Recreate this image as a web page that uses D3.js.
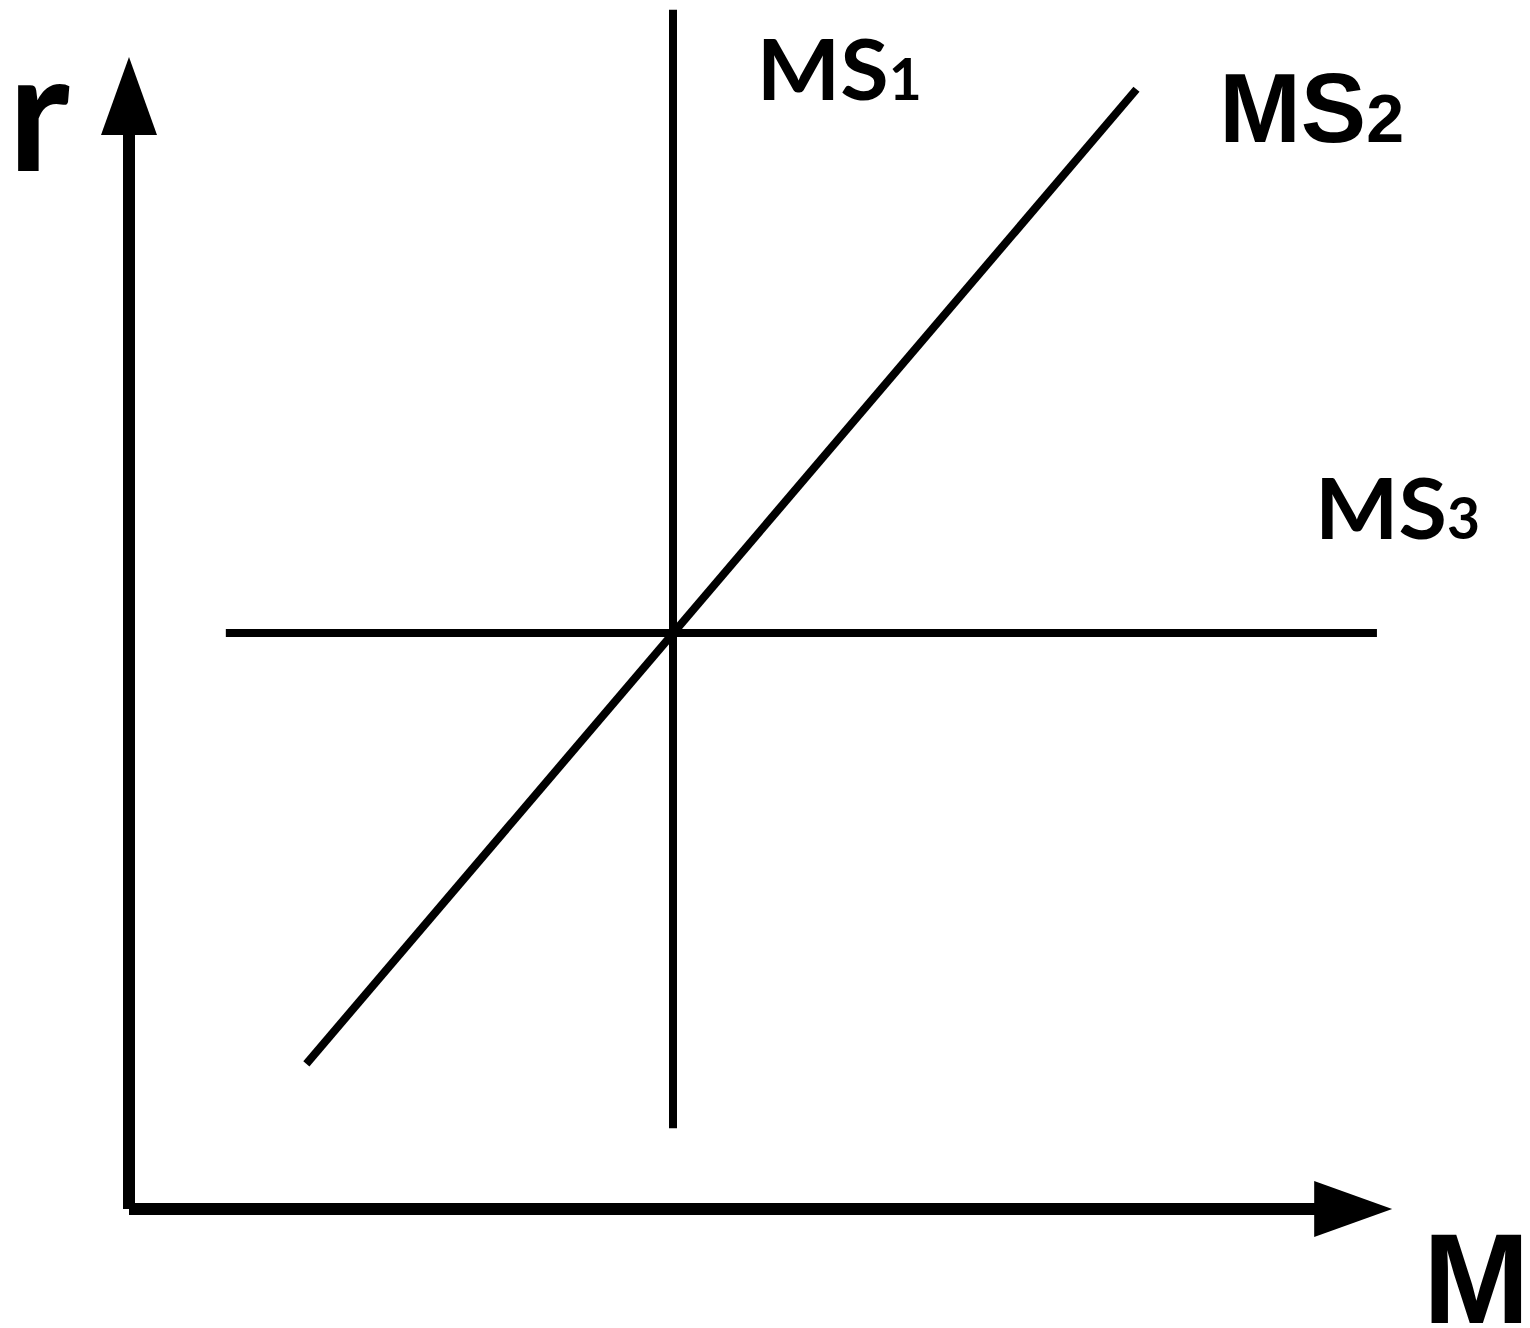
<!DOCTYPE html>
<html>
<head>
<meta charset="utf-8">
<script src="https://cdn.jsdelivr.net/npm/d3@7"></script>
<style>
  html, body {margin: 0; padding: 0; background: #fff;}
  svg {display: block;}
</style>
</head>
<body>
<div id="chart"></div>
<script>
// money supply diagram: r (interest rate) against M (money)
var width = 1530
var height = 1328

var mDomain = [0, 10]
var rDomain = [0, 10]

// the three supply curves, end points in (M, r)
var ms1 = [{m: 5, r: 0.70}, {m: 5, r: 10.41}]
var ms2 = [{m: 1.63, r: 1.26}, {m: 9.26, r: 9.72}]
var ms3 = [{m: 0.89, r: 5}, {m: 11.47, r: 5}]

var curveNames = ["MS1", "MS2", "MS3"]
var curveData = [ms1, ms2, ms3]

// axis ends (arrow tips)
var axisTipM = 11.61
var axisTipR = 10

// label anchors (M, r) with subscript text
var labelText = ["MS", "MS", "MS"]
var labelSub = ["1", "2", "3"]
var labelAt = [{m: 5.77, r: 9.63}, {m: 10.02, r: 9.26}, {m: 10.90, r: 5.82}]

// label styles (font, sizes, stretched width of the base text)
var labelStyle = [
  {font: "Lato", size: 84, subSize: 57, fit: 132},
  {font: "Liberation Sans", size: 98, subSize: 68, fit: null},
  {font: "Lato", size: 84, subSize: 57, fit: 132}
]

var svg = d3.select("#chart").append("svg")
             .attr("width", width)
             .attr("height", height)

var x = d3.scaleLinear().domain(mDomain).range([129, 1217])
var y = d3.scaleLinear().domain(rDomain).range([1209, 57])

var line = d3.line().x(d => x(d.m)).y(d => y(d.r))

// curves
svg.selectAll("path.curve")
   .data(curveData)
   .enter().append("path")
   .attr("class", "curve")
   .attr("id", (d, i) => curveNames[i])
   .attr("d", line)
   .attr("fill", "none")
   .attr("stroke", "#000")
   .attr("stroke-width", 8)

// axes
var arrowLen = 78
var arrowHalf = 28

svg.append("line")
   .attr("x1", x(0)).attr("y1", y(0))
   .attr("x2", x(0)).attr("y2", y(axisTipR) + arrowLen - 1)
   .attr("stroke", "#000").attr("stroke-width", 12)

svg.append("line")
   .attr("x1", x(0)).attr("y1", y(0))
   .attr("x2", x(axisTipM) - arrowLen + 1).attr("y2", y(0))
   .attr("stroke", "#000").attr("stroke-width", 12)

svg.append("path")
   .attr("d", d3.line()([[x(0), y(axisTipR)], [x(0) - arrowHalf, y(axisTipR) + arrowLen], [x(0) + arrowHalf, y(axisTipR) + arrowLen]]) + "Z")
   .attr("fill", "#000")

svg.append("path")
   .attr("d", d3.line()([[x(axisTipM), y(0)], [x(axisTipM) - arrowLen, y(0) - arrowHalf], [x(axisTipM) - arrowLen, y(0) + arrowHalf]]) + "Z")
   .attr("fill", "#000")

// axis titles
svg.append("text")
   .attr("x", 8).attr("y", 171)
   .attr("font-family", "Lato, 'Open Sans', sans-serif")
   .attr("font-weight", "bold")
   .attr("font-size", 166)
   .text("r")

svg.append("text")
   .attr("x", 1423).attr("y", 1323)
   .attr("font-family", "'Liberation Sans', Arial, sans-serif")
   .attr("font-weight", "bold")
   .attr("font-size", 128)
   .text("M")

// curve labels
var lab = svg.selectAll("text.curve-label")
             .data(labelAt)
             .enter().append("text")
             .attr("class", "curve-label")
             .attr("x", d => x(d.m))
             .attr("y", d => y(d.r))
             .attr("font-family", (d, i) => "'" + labelStyle[i].font + "', sans-serif")
             .attr("font-weight", "bold")

lab.append("tspan")
   .attr("font-size", (d, i) => labelStyle[i].size)
   .each(function(d, i) {
     if (labelStyle[i].fit) {
       d3.select(this).attr("textLength", labelStyle[i].fit).attr("lengthAdjust", "spacingAndGlyphs")
     }
   })
   .text((d, i) => labelText[i])

lab.append("tspan")
   .attr("font-size", (d, i) => labelStyle[i].subSize)
   .text((d, i) => labelSub[i])
</script>
</body>
</html>
